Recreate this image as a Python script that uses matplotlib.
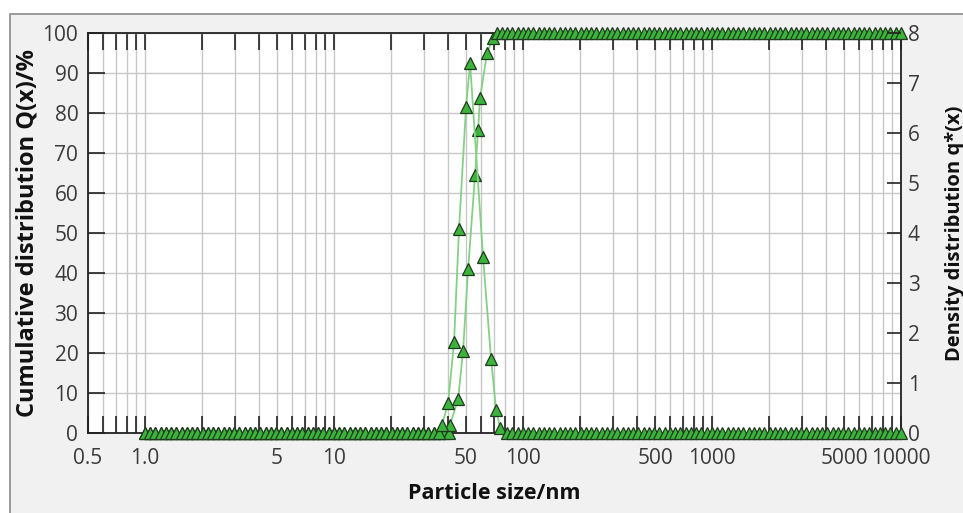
import numpy as np
import matplotlib.pyplot as plt
from matplotlib.patches import Rectangle
from matplotlib.ticker import FixedLocator, NullFormatter

plt.rcParams['font.family'] = ['Open Sans', 'DejaVu Sans']

# instrument size channels: mantissas of one decade, repeated for each decade
channel_steps = [1.000, 1.066, 1.136, 1.212, 1.292, 1.377, 1.468, 1.565, 1.668,
                 1.778, 1.896, 2.021, 2.154, 2.297, 2.448, 2.610, 2.783, 2.967,
                 3.162, 3.371, 3.594, 3.831, 4.084, 4.354, 4.642, 4.949, 5.275,
                 5.623, 5.995, 6.391, 6.813, 7.263, 7.743, 8.254, 8.799, 9.380]
decades = [1, 10, 100, 1000, 10000]
channels = [round(m * d, 3) for d in decades for m in channel_steps]
channels = [c for c in channels if c <= 10000]

# cumulative distribution Q(x) in %, rising part
q_cum_x = [41.1, 45.4, 48.2, 51.3, 55.8, 57.9, 59.3, 64.6, 69.5]
q_cum_y = [2.0, 8.5, 20.5, 41.0, 64.5, 75.8, 83.8, 95.0, 98.8]

# density distribution q*(x), peak
q_den_x = [37.3, 40.2, 43.2, 45.9, 50.0, 52.5, 61.5, 67.8, 72.1, 75.7]
q_den_y = [0.16, 0.60, 1.82, 4.08, 6.52, 7.40, 3.52, 1.48, 0.46, 0.10]

x_ticks = [0.5, 1.0, 5, 10, 50, 100, 500, 1000, 5000, 10000]
x_tick_labels = ['0.5', '1.0', '5', '10', '50', '100', '500', '1000', '5000', '10000']

# full series: zero below the peak, 100 % / zero above it
cum_x = [c for c in channels if c < q_cum_x[0]] + q_cum_x + [c for c in channels if c > 72]
cum_y = [0.0 for c in channels if c < q_cum_x[0]] + q_cum_y + [100.0 for c in channels if c > 72]
den_x = [c for c in channels if c < q_den_x[0]] + q_den_x + [c for c in channels if c > 78]
den_y = [0.0 for c in channels if c < q_den_x[0]] + q_den_y + [0.0 for c in channels if c > 78]

fig = plt.figure(figsize=(9.63, 5.13), dpi=100)
fig.patch.set_facecolor('white')
frame = Rectangle((10 / 963, -0.01), 1.0, 1 - 14 / 513 + 0.01,
                  transform=fig.transFigure, facecolor='#f1f1f1',
                  edgecolor='#8a8a8a', linewidth=1.2, zorder=-10)
fig.add_artist(frame)

ax = fig.add_axes([88 / 963, 1 - 433 / 513, (901 - 88) / 963, 400 / 513])
ax.set_facecolor('white')
ax.set_xscale('log')
ax.set_xlim(0.5, 10000)
ax.set_ylim(0, 100)

ax.xaxis.set_major_locator(FixedLocator(x_ticks))
ax.set_xticklabels(x_tick_labels)
ax.xaxis.set_minor_formatter(NullFormatter())
minor_pos = [m * d for d in [0.1, 1, 10, 100, 1000] for m in range(1, 10)]
minor_pos = [p for p in minor_pos if 0.5 < p < 10000]
ax.xaxis.set_minor_locator(FixedLocator(minor_pos))
ax.set_yticks(np.arange(0, 101, 10))

ax.grid(True, which='both', axis='x', color='#c8c8c8', linewidth=1.0)
ax.grid(True, which='major', axis='y', color='#c8c8c8', linewidth=1.0)
ax.set_axisbelow(True)

ax.tick_params(axis='x', which='both', direction='in', top=True, bottom=True,
               length=12, width=1.2, color='#222222', labelsize=15,
               labelcolor='#3a3a3a', pad=11)
ax.tick_params(axis='y', which='major', direction='in', length=12, width=1.2,
               color='#222222', labelsize=15, labelcolor='#3a3a3a', pad=7)
for s in ax.spines.values():
    s.set_color('#222222')
    s.set_linewidth(1.3)

style = dict(marker='^', markersize=8.5, markerfacecolor='#3cb43c',
             markeredgecolor='#1f3a1f', markeredgewidth=0.9,
             color='#86d086', linewidth=1.3, clip_on=False)
ax.plot(cum_x, cum_y, zorder=3, **style)

ax2 = ax.twinx()
ax2.set_ylim(0, 8)
ax2.set_yticks(range(0, 9))
ax2.tick_params(axis='y', direction='in', length=10, width=1.2, color='#222222',
                labelsize=15, labelcolor='#3a3a3a', pad=5)
for s in ax2.spines.values():
    s.set_visible(False)
ax2.plot(den_x, den_y, zorder=3, **style)

ax.set_ylabel('Cumulative distribution Q(x)/%', fontsize=17, fontweight='bold',
              color='#111111', labelpad=2)
ax.set_xlabel('Particle size/nm', fontsize=15.5, fontweight='bold',
              color='#111111', labelpad=10)
ax2.set_ylabel('Density distribution q*(x)', fontsize=14.5, fontweight='bold',
               color='#111111', rotation=90, labelpad=18)

fig.savefig('out.png', dpi=100)
